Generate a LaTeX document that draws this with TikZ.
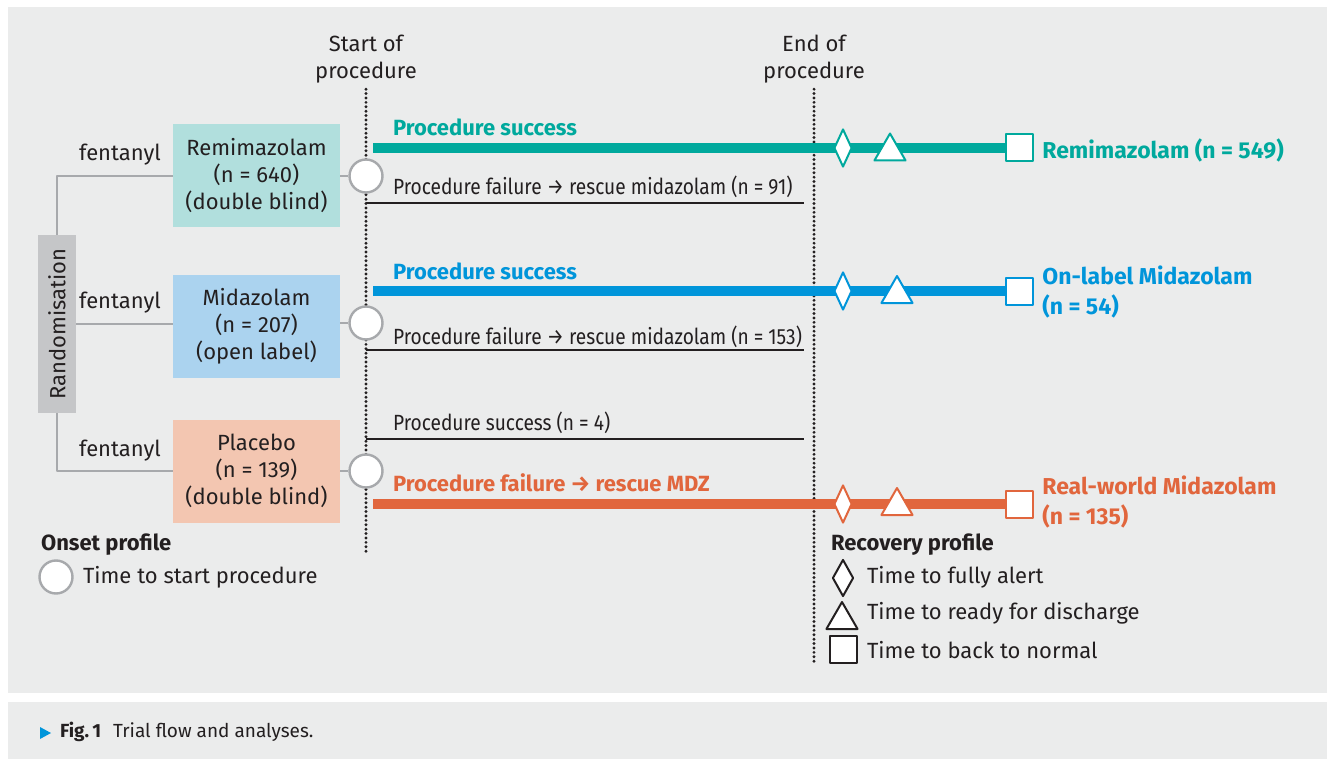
\documentclass[tikz,border=0pt]{standalone}
\usepackage{fontspec}
\setmainfont{Fira Sans}
\newfontfamily\slimfont{Fira Sans}[FakeStretch=0.87]
\usetikzlibrary{shapes.geometric}
\definecolor{ink}{HTML}{231F20}
\definecolor{panel}{HTML}{EBECEC}
\definecolor{treegray}{HTML}{A7A9AC}
\definecolor{randgray}{HTML}{C5C6C8}
\definecolor{remi}{HTML}{00A99D}
\definecolor{mida}{HTML}{0095DA}
\definecolor{plac}{HTML}{E1663D}
\definecolor{remilight}{HTML}{B1DFDD}
\definecolor{midalight}{HTML}{ABD3EF}
\definecolor{placlight}{HTML}{F3C6B1}
\begin{document}
\begin{tikzpicture}[x=0.5pt,y=-0.5pt,line join=round,text=ink,
	font=\fontsize{11}{13.5}\selectfont,
	arm/.style={fill=#1,minimum width=83.5pt,minimum height=51.5pt,align=center,inner sep=0pt},
	tree/.style={draw=treegray,line width=1.3pt},
	onset/.style={circle,draw=treegray,line width=1.2pt,fill=white,minimum size=16.5pt,inner sep=0pt},
	alert/.style={diamond,draw=#1,fill=white,line width=1pt,inner sep=0pt,minimum width=9pt,minimum height=19pt},
	ready/.style={regular polygon,regular polygon sides=3,draw=#1,fill=white,line width=1pt,inner sep=0pt,minimum size=18pt},
	normal/.style={rectangle,draw=#1,fill=white,line width=1pt,inner sep=0pt,minimum size=13.5pt},
	bar/.style={draw=#1,line width=5pt},
	fail/.style={draw=ink,line width=1.1pt},
	phase/.style={draw=ink,line width=1.6pt,line cap=round,dash pattern=on 0pt off 2.2pt},
	path label/.style={anchor=west,font=\fontsize{11}{13.5}\slimfont},
	path title/.style={anchor=west,text=#1,font=\fontsize{11}{13.5}\selectfont\bfseries},
	outcome/.style={anchor=west,text=#1,font=\fontsize{11.5}{15}\selectfont\bfseries,align=left,inner sep=0pt}]
	\useasboundingbox (0,0) rectangle (1327,759);
	\fill[panel] (8,7) rectangle (1327,693);
	\fill[panel] (8,702) rectangle (1327,759);
	%Randomisation
	\node[rotate=90,fill=randgray,minimum width=89pt,minimum height=19pt,inner sep=0pt] (rand) at (57,324) {Randomisation};
	\node[arm=remilight] (remi) at (256.5,176) {Remimazolam\\(n = 640)\\(double blind)};
	\node[arm=midalight] (mida) at (256.5,326.5) {Midazolam\\(n = 207)\\(open label)};
	\node[arm=placlight] (plac) at (256.5,471) {Placebo\\(n = 139)\\(double blind)};
	\draw[tree] (rand.east) |- (remi.west);
	\draw[tree] (rand.south) -- (rand.south -| mida.west);
	\draw[tree] (rand.west) |- (plac.west);
	\node (f1) at (120,155) {fentanyl};
	\node (f2) at (120,303) {fentanyl};
	\node (f3) at (120,451) {fentanyl};
	%Start and end of procedure
	\node[align=center] (start) at (366,59) {Start of\\procedure};
	\node[align=center] (end) at (814,59) {End of\\procedure};
	\coordinate (sb) at (366,552);
	\coordinate (eb) at (814,663);
	\draw[phase] (start.south) ++(0,-1) -- (sb);
	\draw[phase] (end.south) ++(0,-1) -- (eb);
	%Remimazolam
	\coordinate (b1) at (373,148);
	\coordinate (l1a) at (366,203);
	\coordinate (l1b) at (804,203);
	\node[normal=remi] (s1) at (1019,148) {};
	\draw[bar=remi] (b1) -- (s1.west);
	\draw[fail] (l1a) -- (l1b);
	\node[alert=remi] (d1) at (843,148) {};
	\node[ready=remi] (t1) at (890,151.5) {};
	\node[outcome=remi] (o1) at (1042,150) {Remimazolam (n = 549)};
	\node[path title=remi] at (386,127) {Procedure success};
	\node[path label] at (386,187) {Procedure failure → rescue midazolam (n = 91)};
	%Midazolam
	\coordinate (b2) at (373,291);
	\coordinate (l2a) at (366,350);
	\coordinate (l2b) at (804,350);
	\node[normal=mida] (s2) at (1019,291) {};
	\draw[bar=mida] (b2) -- (s2.west);
	\draw[fail] (l2a) -- (l2b);
	\node[alert=mida] (d2) at (843,291) {};
	\node[ready=mida] (t2) at (897,294) {};
	\node[outcome=mida] (o2) at (1042,292) {On-label Midazolam\\(n = 54)};
	\node[path title=mida] at (386,271) {Procedure success};
	\node[path label] at (386,337) {Procedure failure → rescue midazolam (n = 153)};
	%Placebo
	\coordinate (b3) at (373,504);
	\coordinate (l3a) at (366,439);
	\coordinate (l3b) at (804,439);
	\node[normal=plac] (s3) at (1019,504) {};
	\draw[bar=plac] (b3) -- (s3.west);
	\draw[fail] (l3a) -- (l3b);
	\node[alert=plac] (d3) at (843,504) {};
	\node[ready=plac] (t3) at (897,506) {};
	\node[outcome=plac] (o3) at (1042,502) {Real-world Midazolam\\(n = 135)};
	\node[path label] at (386,423) {Procedure success (n = 4)};
	\node[path title=plac] at (386,483) {Procedure failure → rescue MDZ};
	%Onset circles
	\node[onset] (c1) at (366,176) {};
	\node[onset] (c2) at (366,323) {};
	\node[onset] (c3) at (366,471) {};
	\draw[tree] (remi.east) -- (c1.west);
	\draw[tree] (mida.east |- c2) -- (c2.west);
	\draw[tree] (plac.east) -- (c3.west);
	%Legends
	\node[anchor=west,font=\fontsize{11}{13.5}\selectfont\bfseries] (onsetlab) at (34,545) {Onset profile};
	\node[onset] (oc) at (56,577) {};
	\node[anchor=west] at (76,577) {Time to start procedure};
	\node[anchor=west,font=\fontsize{11}{13.5}\selectfont\bfseries] (reclab) at (824,545) {Recovery profile};
	\node[alert=ink,minimum width=10.5pt,minimum height=18.5pt] (ld) at (843,578) {};
	\node[ready=ink] (lt) at (842,620) {};
	\node[normal=ink] (ls) at (843,649) {};
	\node[anchor=west] at (860,577) {Time to fully alert};
	\node[anchor=west] at (860,613) {Time to ready for discharge};
	\node[anchor=west] at (860,650) {Time to back to normal};
	%Caption
	\fill[mida] (40,727) -- (51,733) -- (40,739) -- cycle;
	\node[anchor=west,font=\fontsize{9.5}{11}\selectfont] (cap) at (53,732) {\textbf{Fig.\,1}\hspace{6pt}Trial flow and analyses.};
\end{tikzpicture}
\end{document}
